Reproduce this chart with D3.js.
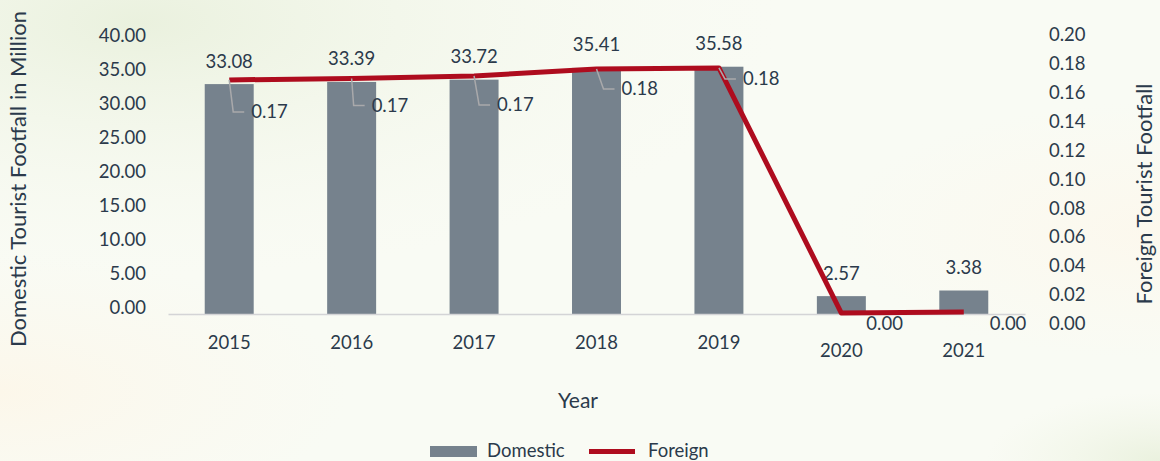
<!DOCTYPE html>
<html>
<head>
<meta charset="utf-8">
<script src="https://cdn.jsdelivr.net/npm/d3@7"></script>
<style>
  html, body { margin: 0; padding: 0; background: #f8faf1; }
  svg { display: block; }
  text { font-family: Lato, "Open Sans", sans-serif; fill: #2b3a4b; }
</style>
</head>
<body>
<svg id="chart" width="1160" height="461"></svg>
<script>
// Tourist footfall by year
const years = ["2015", "2016", "2017", "2018", "2019", "2020", "2021"];
const domestic = [33.08, 33.39, 33.72, 35.41, 35.58, 2.57, 3.38];
const foreign = [0.1696, 0.1707, 0.1725, 0.1776, 0.1783, 0.0007, 0.0014];
const leftTicks = [0, 5, 10, 15, 20, 25, 30, 35, 40];
const rightTicks = [0, 0.02, 0.04, 0.06, 0.08, 0.10, 0.12, 0.14, 0.16, 0.18, 0.20];

// Placement of the foreign-value callouts relative to each point (dx, dy, leader shown)
const calloutOffsets = [
  { dx: 22, dy: 32, leader: true },
  { dx: 20, dy: 27, leader: true },
  { dx: 23, dy: 29, leader: true },
  { dx: 25, dy: 20, leader: true },
  { dx: 24, dy: 11, leader: true },
  { dx: 25, dy: 10, leader: false },
  { dx: 26, dy: 11, leader: false }
];
// Extra downward shift of the year labels that sit under the low values
const yearLabelDrop = [0, 0, 0, 0, 0, 8, 8];

const svg = d3.select("#chart");
const W = 1160, H = 461;

// Soft paper-like background
const defs = svg.append("defs");
function radial(id, cx, cy, r, c0, c1) {
  const g = defs.append("radialGradient").attr("id", id).attr("cx", cx).attr("cy", cy).attr("r", r);
  g.append("stop").attr("offset", "0").attr("stop-color", c0).attr("stop-opacity", 1);
  g.append("stop").attr("offset", "1").attr("stop-color", c1).attr("stop-opacity", 0);
}
radial("bgGreen", 0.12, 0.05, 0.55, "#eaf1de", "#f6f9ef");
radial("bgCream", 0.0, 0.85, 0.3, "#fcf7ea", "#fbf8ee");
radial("bgCreamR", 1.0, 0.5, 0.28, "#fcf8ed", "#fcf9ef");
radial("bgGreenR", 1.0, 1.0, 0.15, "#eaf1de", "#f0f5e6");

svg.append("rect").attr("width", W).attr("height", H).attr("fill", "#f9fbf4");
["bgGreen", "bgCream", "bgCreamR", "bgGreenR"].forEach(id =>
  svg.append("rect").attr("width", W).attr("height", H).attr("fill", `url(#${id})`));

// Scales
const x = d3.scaleBand().domain(years).range([168, 1025]).paddingInner(0.6).paddingOuter(0.3);
const yBar = d3.scaleLinear().domain([0, 40]).range([314, 36]);
const yLeftAxis = d3.scaleLinear().domain([0, 40]).range([307.5, 35.5]);
const yLine = d3.scaleLinear().domain([0, 0.2]).range([314, 38]);
const yRightAxis = d3.scaleLinear().domain([0, 0.2]).range([323.5, 35]);

const fmt = d3.format(".2f");
const textColor = "#2a3849";
const barColor = "#76828d";
const lineColor = "#ae0c1e";
const fs = 18.5;

// Left axis (labels only)
const leftAxis = d3.axisLeft(yLeftAxis).tickValues(leftTicks).tickFormat(fmt).tickSize(0).tickPadding(0);
const gl = svg.append("g").attr("transform", "translate(146,0)").call(leftAxis);
gl.select(".domain").remove();
gl.selectAll("text").attr("font-size", fs).attr("fill", textColor).attr("font-family", "Lato, sans-serif");

// Right axis (labels only)
const rightAxis = d3.axisRight(yRightAxis).tickValues(rightTicks).tickFormat(fmt).tickSize(0).tickPadding(0);
const gr = svg.append("g").attr("transform", "translate(1049,0)").call(rightAxis);
gr.select(".domain").remove();
gr.selectAll("text").attr("font-size", fs).attr("fill", textColor).attr("font-family", "Lato, sans-serif");

// Bars
svg.append("g").selectAll("rect").data(years).join("rect")
  .attr("x", d => x(d))
  .attr("width", x.bandwidth())
  .attr("y", (d, i) => yBar(domestic[i]))
  .attr("height", (d, i) => yBar(0) - yBar(domestic[i]))
  .attr("fill", barColor);

// Category axis
const bottomAxis = d3.axisBottom(x).tickSize(0).tickPadding(0);
const gb = svg.append("g").attr("transform", `translate(0,${yBar(0)})`).call(bottomAxis);
gb.select(".domain").attr("stroke", "#d4d4d6").attr("stroke-width", 1.5);
gb.selectAll(".tick text")
  .attr("font-size", fs).attr("fill", textColor).attr("font-family", "Lato, sans-serif")
  .attr("dy", null)
  .attr("y", (d, i) => 35 + yearLabelDrop[i]);

// Bar value labels
svg.append("g").selectAll("text").data(years).join("text")
  .attr("x", d => x(d) + x.bandwidth() / 2)
  .attr("y", (d, i) => yBar(domestic[i]) - 23)
  .attr("dy", "0.35em")
  .attr("text-anchor", "middle")
  .attr("font-size", fs)
  .attr("fill", (d, i) => domestic[i] < 10 ? "#111111" : textColor)
  .text((d, i) => fmt(domestic[i]));

// Foreign line
const pts = years.map((d, i) => [x(d) + x.bandwidth() / 2, yLine(foreign[i])]);
svg.append("path")
  .attr("d", d3.line()(pts))
  .attr("fill", "none")
  .attr("stroke", lineColor)
  .attr("stroke-width", 5)
  .attr("stroke-linejoin", "round");

// Foreign value callouts with leader lines
const callouts = svg.append("g");
pts.forEach((p, i) => {
  const o = calloutOffsets[i];
  const lx = p[0] + o.dx, ly = p[1] + o.dy;
  if (o.leader) {
    callouts.append("path")
      .attr("d", d3.line()([p, [lx - 18, ly], [lx - 7, ly]]))
      .attr("fill", "none")
      .attr("stroke", "#a9a9ab")
      .attr("stroke-width", 1.5);
  }
  callouts.append("text")
    .attr("x", lx).attr("y", ly).attr("dy", "0.35em")
    .attr("font-size", fs).attr("fill", textColor)
    .text(fmt(foreign[i]));
});

// Axis titles
svg.append("text")
  .attr("transform", "translate(26,179) rotate(-90)")
  .attr("text-anchor", "middle")
  .attr("font-size", 22).attr("fill", textColor)
  .text("Domestic Tourist Footfall in Million");
svg.append("text")
  .attr("transform", "translate(1152,194) rotate(-90)")
  .attr("text-anchor", "middle")
  .attr("font-size", 22).attr("fill", textColor)
  .text("Foreign Tourist Footfall");
svg.append("text")
  .attr("x", 578).attr("y", 401).attr("dy", "0.35em")
  .attr("text-anchor", "middle")
  .attr("font-size", 21).attr("fill", textColor)
  .text("Year");

// Legend
const lg = svg.append("g");
lg.append("rect").attr("x", 430).attr("y", 446).attr("width", 47).attr("height", 11).attr("fill", barColor);
lg.append("text").attr("x", 487).attr("y", 451).attr("dy", "0.35em").attr("font-size", fs).attr("fill", textColor).text("Domestic");
lg.append("line").attr("x1", 589).attr("x2", 635).attr("y1", 451.5).attr("y2", 451.5).attr("stroke", lineColor).attr("stroke-width", 5);
lg.append("text").attr("x", 648).attr("y", 451).attr("dy", "0.35em").attr("font-size", fs).attr("fill", textColor).text("Foreign");
</script>
</body>
</html>
